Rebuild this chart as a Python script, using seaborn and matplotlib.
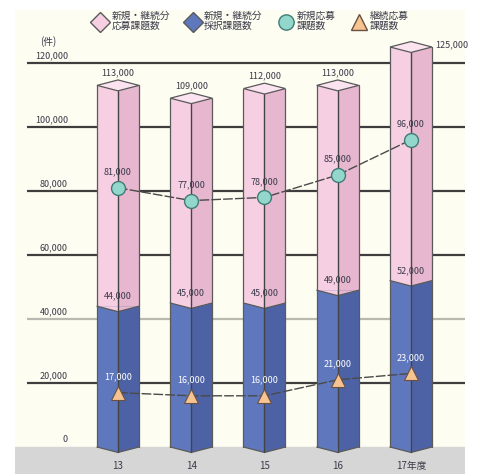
import matplotlib
matplotlib.use("Agg")
import matplotlib.pyplot as plt
from matplotlib.patches import Polygon
from matplotlib.lines import Line2D
import seaborn as sns
import pandas as pd

# ---- data ----
years = ["13", "14", "15", "16", "17年度"]
applied_total = [113000, 109000, 112000, 113000, 125000]   # 新規・継続分 応募課題数
adopted_total = [44000, 45000, 45000, 49000, 52000]        # 新規・継続分 採択課題数
new_applied = [81000, 77000, 78000, 85000, 96000]          # 新規応募 課題数
cont_applied = [17000, 16000, 16000, 21000, 23000]         # 継続応募 課題数
yticks = [0, 20000, 40000, 60000, 80000, 100000, 120000]

sns.set_theme(style="white")
plt.rcParams["font.family"] = ["Noto Sans CJK JP", "DejaVu Sans"]

df = pd.DataFrame({"year": years, "total": applied_total, "adopt": adopted_total,
                   "new": new_applied, "cont": cont_applied})

PINK_L, PINK_R, PINK_T = "#f7cfe2", "#e6b7cf", "#fbe3ef"
BLUE_L, BLUE_R = "#5f78bd", "#4c62a5"
EDGE = "#5a5a5a"
CREAM = "#fdfdf1"
TXT = "#3a3a4a"

fig = plt.figure(figsize=(4.78, 4.74), dpi=100)
fig.patch.set_facecolor("white")
ax = fig.add_axes([15/478, 0, 450/478, 464/474])
ax.set_facecolor(CREAM)

pxu = 73.25          # px per category
pyk = 3.2 / 1000.0   # px per unit value
xlim = (-(118-15)/pxu, 4 + (465-411)/pxu)
ylim = (-(474-447)/pyk, (447-10)/pyk)

# background band and grid
ax.axhspan(ylim[0], 0, color="#d6d6d6", zorder=0)
gx0 = (27-118)/pxu
for t in yticks[1:]:
    c = "#b9b9b0" if t == 40000 else "#3e3e3e"
    ax.hlines(t, gx0, xlim[1], color=c, lw=1.6, zorder=1)
for t in yticks:
    ax.text((68-118)/pxu, t + 900, f"{t:,}", ha="right", va="bottom",
            fontsize=6.5, color=TXT, zorder=2)
ax.text((48-118)/pxu, 126800, "(件)", ha="center", va="center", fontsize=7, color=TXT)

W = 42/pxu
n_before = len(ax.patches)
sns.barplot(data=df, x="year", y="total", color=PINK_L, width=W, saturation=1,
            edgecolor=EDGE, linewidth=0.9, ax=ax, zorder=3)
sns.barplot(data=df, x="year", y="adopt", color=BLUE_L, width=W, saturation=1,
            edgecolor=EDGE, linewidth=0.9, ax=ax, zorder=3)

d = 1700  # half-height of diamond cap in data units
patches = list(ax.patches)[n_before:]
n = len(years)
pink_bars = patches[:n]
blue_bars = patches[n:2*n]
for pb, bb in zip(pink_bars, blue_bars):
    x0 = pb.get_x(); w = pb.get_width(); x1 = x0 + w; xc = x0 + w/2
    vt = pb.get_height(); vb = bb.get_height()
    ax.add_patch(Polygon([(xc, vb), (x1, vb), (x1, vt), (xc, vt)], closed=True,
                         fc=PINK_R, ec="none", zorder=3.5))
    ax.add_patch(Polygon([(xc, 0), (x1, 0), (x1, vb), (xc, vb)], closed=True,
                         fc=BLUE_R, ec="none", zorder=3.5))
    ax.add_patch(Polygon([(x0, vb), (xc, vb - d), (xc, vb)], closed=True,
                         fc=PINK_L, ec="none", zorder=3.6))
    ax.add_patch(Polygon([(xc, vb), (xc, vb - d), (x1, vb)], closed=True,
                         fc=PINK_R, ec="none", zorder=3.6))
    ax.plot([x0, xc, x1], [vb, vb - d, vb], color=EDGE, lw=0.9, zorder=3.7)
    ax.add_patch(Polygon([(x0, 0), (xc, -d), (xc, 0)], closed=True,
                         fc=BLUE_L, ec="none", zorder=3.6))
    ax.add_patch(Polygon([(xc, 0), (xc, -d), (x1, 0)], closed=True,
                         fc=BLUE_R, ec="none", zorder=3.6))
    ax.plot([x0, xc, x1], [0, -d, 0], color=EDGE, lw=0.9, zorder=3.7)
    ax.plot([x0, x0], [0, vt], color=EDGE, lw=0.9, zorder=3.7)
    ax.plot([x1, x1], [0, vt], color=EDGE, lw=0.9, zorder=3.7)
    ax.plot([xc, xc], [-d, vt - d], color="#444444", lw=1.0, zorder=3.7)
    ax.add_patch(Polygon([(x0, vt), (xc, vt + d), (x1, vt), (xc, vt - d)], closed=True,
                         fc=PINK_T, ec=EDGE, lw=0.9, zorder=3.8))
    pb.set_edgecolor("none"); bb.set_edgecolor("none")

# lines
sns.pointplot(data=df, x="year", y="new", color="#4a4a4a", marker="o",
              markersize=10, markerfacecolor="#93d6cc", markeredgecolor="#3f7d74",
              markeredgewidth=1.0, linestyle=(0, (7, 1.5)), linewidth=1.0,
              ax=ax, zorder=5)
sns.pointplot(data=df, x="year", y="cont", color="#4a4a4a", marker="^",
              markersize=10, markerfacecolor="#f6c391", markeredgecolor="#6a5040",
              markeredgewidth=0.8, linestyle=(0, (7, 1.5)), linewidth=1.0,
              ax=ax, zorder=5)

fs = 6.5
n = len(years)
for i, (t, a, nw, c) in enumerate(zip(applied_total, adopted_total, new_applied, cont_applied)):
    if i == n - 1:
        ax.text(i + W/2 + 0.04, t + 800, f"{t:,}", ha="left", va="center",
                fontsize=fs, color=TXT, zorder=6)
    else:
        ax.text(i, t + 2600, f"{t:,}", ha="center", va="bottom", fontsize=fs,
                color=TXT, zorder=6)
    ax.text(i, a + 1800, f"{a:,}", ha="center", va="bottom", fontsize=fs,
            color=TXT, zorder=6)
    ax.text(i, nw + 3600, f"{nw:,}", ha="center", va="bottom", fontsize=fs,
            color=TXT, zorder=6)
    ax.text(i, c + 3600, f"{c:,}", ha="center", va="bottom", fontsize=fs,
            color="white", zorder=6)
    ax.text(i, -5800, years[i], ha="center", va="center", fontsize=7, color=TXT, zorder=6)

ax.set_xlim(*xlim)
ax.set_ylim(*ylim)
ax.set_xlabel(""); ax.set_ylabel("")
ax.set_xticks([]); ax.set_yticks([])
for s in ax.spines.values():
    s.set_visible(False)

handles = [
    Line2D([], [], marker="D", ls="none", markersize=10, markerfacecolor=PINK_L, markeredgecolor=EDGE),
    Line2D([], [], marker="D", ls="none", markersize=10, markerfacecolor=BLUE_L, markeredgecolor=EDGE),
    Line2D([], [], marker="o", ls="none", markersize=11, markerfacecolor="#93d6cc", markeredgecolor="#3f7d74"),
    Line2D([], [], marker="^", ls="none", markersize=11, markerfacecolor="#f6c391", markeredgecolor="#6a5040"),
]
labels = ["新規・継続分\n応募課題数", "新規・継続分\n採択課題数", "新規応募\n課題数", "継続応募\n課題数"]
leg = fig.legend(handles, labels, ncol=4, loc="upper center", bbox_to_anchor=(0.525, 0.995),
                 frameon=False, fontsize=7, handlelength=1.5, handletextpad=0.4,
                 columnspacing=1.6, labelspacing=0.2)
for t in leg.get_texts():
    t.set_color(TXT)
    t.set_linespacing(1.0)

fig.savefig("out.png", dpi=100, facecolor="white")
